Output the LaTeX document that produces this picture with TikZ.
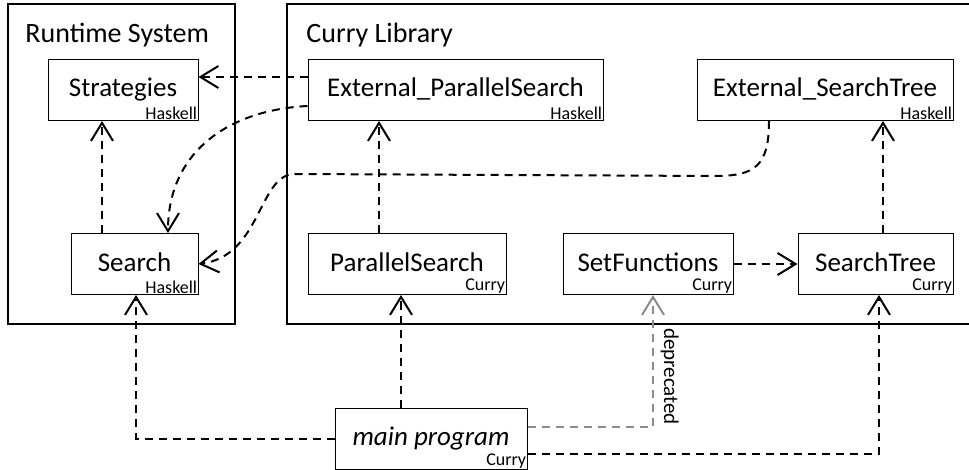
\documentclass[tikz,border=0pt]{standalone}
\usepackage{fontspec}
\setmainfont{Carlito}
\usetikzlibrary{arrows.meta,calc}
\begin{document}
\begin{tikzpicture}[x=0.5pt,y=-0.5pt,
  module/.style={draw, line width=0.5pt, inner sep=0pt, minimum height=30.5pt,
    text height=9.5pt, text depth=2.5pt, font=\fontsize{13.5}{15}\selectfont},
  lang/.style={anchor=south east, inner sep=0.5pt, font=\fontsize{9}{10}\selectfont},
  group/.style={draw, line width=1.2pt},
  grouptitle/.style={anchor=base west, inner sep=0pt, font=\fontsize{14}{16}\selectfont},
  dep/.style={line width=1pt, dash pattern=on 4pt off 3pt,
    -{Straight Barb[length=9pt,width=11pt]}},
  olddep/.style={dep, draw=black!45},
  note/.style={font=\fontsize{10.5}{12}\selectfont, text=black}
]
\useasboundingbox (0,0) rectangle (969,470);

% package groups
\draw[group] (8,4) rectangle (235,324);
\node[grouptitle] (rtstitle) at (25,43) {Runtime System};
\draw[group] (287,4) rectangle (985,324);
\node[grouptitle] (libtitle) at (306,43) {Curry Library};

% modules
\node[module, minimum width=75pt] (strat) at (123,90) {Strategies};
\node[lang] (strat-l) at (strat.south east) {Haskell};
\node[module, minimum width=63.5pt] (search) at (134.5,264) {Search};
\node[lang] (search-l) at (search.south east) {Haskell};
\node[module, minimum width=147.5pt] (extps) at (455.5,90) {External\_ParallelSearch};
\node[lang] (extps-l) at (extps.south east) {Haskell};
\node[module, minimum width=128pt] (extst) at (825,90) {External\_SearchTree};
\node[lang] (extst-l) at (extst.south east) {Haskell};
\node[module, minimum width=99pt] (ps) at (407,264) {ParallelSearch};
\node[lang] (ps-l) at (ps.south east) {Curry};
\node[module, minimum width=85pt] (sf) at (648,264) {SetFunctions};
\node[lang] (sf-l) at (sf.south east) {Curry};
\node[module, minimum width=77.5pt] (st) at (875.5,264) {SearchTree};
\node[lang] (st-l) at (st.south east) {Curry};
\node[module, minimum width=96pt] (main) at (431,438.5) {\itshape main program};
\node[lang] (main-l) at (main.south east) {Curry};

% dependencies
\draw[dep] ($(extps.west)+(0,-13)$) -- ($(strat.east)+(0,-13)$);
\draw[dep] ($(extps.west)+(0,16)$) .. controls +(-78,4) and +(0,-82) .. ($(search.north)+(33.5,0)$);
\draw[dep] ($(search.north)+(-32.5,0)$) -- ($(strat.south)+(-21,0)$);
\draw[dep] ($(extst.south)+(-56,0)$) .. controls +(0,45) and +(40,0) .. (715,176)
  -- (295,174) .. controls (258,174) and (262,256) .. (search.east);
\draw[dep] ($(ps.north)+(-28,0)$) -- ($(extps.south)+(-76.5,0)$);
\draw[dep] (sf.east) -- (st.west);
\draw[dep] ($(st.north)+(7.5,0)$) -- ($(extst.south)+(58,0)$);
\draw[dep] (main.west) -| ($(search.south)+(1.5,0)$);
\draw[dep] ($(main.north)+(-30,0)$) -- ($(ps.south)+(-6,0)$);
\draw[olddep] ($(main.east)+(0,-12)$) -| node[note, pos=0.69, rotate=-90, anchor=south] (deptext) {deprecated} ($(sf.south)+(5,0)$);
\draw[dep] ($(main.east)+(0,15)$) -| ($(st.south)+(3.5,0)$);
\end{tikzpicture}
\end{document}
